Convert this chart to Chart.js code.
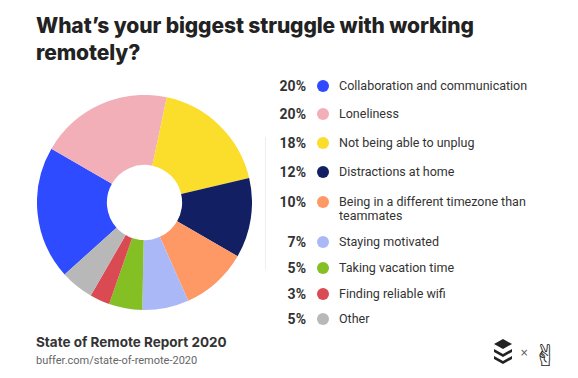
<!DOCTYPE html>
<html>
<head>
<meta charset="utf-8">
<script src="https://cdn.jsdelivr.net/npm/chart.js@4"></script>
<style>
  body { margin: 0; width: 578px; height: 378px; background: #fff; position: relative; overflow: hidden; font-family: Roboto, sans-serif; }
  h1 { position: absolute; left: 36px; top: 12px; margin: 0; font-family: Inter, sans-serif; font-weight: 800; font-size: 21px; line-height: 27px; color: #222; letter-spacing: -0.1px; }
  #pie { position: absolute; left: 37px; top: 95px; width: 215px; height: 215px; }
  #sep { position: absolute; left: 265px; top: 137px; width: 1px; height: 133px; background: #eee; }
  #legend { position: absolute; left: 270px; top: 0; margin: 0; padding: 0; list-style: none; }
  #legend li { position: absolute; left: 0; width: 300px; height: 16px; }
  #legend .pct { position: absolute; right: 264px; top: 0; font-weight: 700; font-size: 14px; line-height: 16px; color: #333; }
  #legend .dot { position: absolute; left: 47px; top: 2px; width: 12px; height: 12px; border-radius: 50%; }
  #legend .lab { position: absolute; left: 69px; top: 1px; width: 200px; font-size: 12.5px; line-height: 14px; color: #333; }
  #foot1 { position: absolute; left: 36px; top: 334px; font-family: Inter, sans-serif; font-weight: 700; font-size: 13.5px; color: #333; }
  #foot2 { position: absolute; left: 36px; top: 354px; font-size: 11px; color: #666; }
  #logo { position: absolute; left: 493px; top: 336px; }
</style>
</head>
<body>
<h1>What’s your biggest struggle with working<br>remotely?</h1>
<div id="pie"><canvas id="struggle"></canvas></div>
<div id="sep"></div>
<ul id="legend"></ul>
<div id="foot1">State of Remote Report 2020</div>
<div id="foot2">buffer.com/state-of-remote-2020</div>
<svg id="logo" width="70" height="34" viewBox="0 0 70 34">
  <polygon points="10,3 19,8 10,13 1,8" fill="#222"/>
  <polygon points="1,13 10,18 19,13 19,16 10,21 1,16" fill="#222"/>
  <polygon points="1,20 10,25 19,20 19,23 10,28 1,23" fill="#222"/>
  <text x="27" y="20" font-size="10" fill="#555" font-family="DejaVu Sans">×</text>
  <text x="40" y="30" font-size="30" fill="#222" font-family="DejaVu Sans">✌</text>
</svg>
<script>
// Antworten in Reihenfolge der Legende
const labels = ['Collaboration and communication', 'Loneliness', 'Not being able to unplug', 'Distractions at home',
  'Being in a different timezone than teammates', 'Staying motivated', 'Taking vacation time', 'Finding reliable wifi', 'Other'];
const values = [20, 20, 18, 12, 10, 7, 5, 3, 5];
const colors = ['#2f4bff', '#f2afb8', '#fbdd2b', '#131f63', '#fe9966', '#abb8f8', '#84c023', '#d94a52', '#b8b8b8'];

// Legende
const rowTops = [78, 106, 135, 164, 194, 234, 260, 286, 311];
const legend = document.getElementById('legend');
labels.forEach((l, i) => {
  const li = document.createElement('li');
  li.style.top = rowTops[i] + 'px';
  li.innerHTML = '<span class="pct">' + values[i] + '%</span><span class="dot" style="background:' + colors[i] + '"></span><span class="lab">' + l + '</span>';
  legend.appendChild(li);
});

new Chart(document.getElementById('struggle').getContext('2d'), {
  type: 'doughnut',
  data: {
    labels: labels,
    datasets: [{
      data: values,
      backgroundColor: colors,
      borderWidth: 0
    }]
  },
  options: {
    responsive: true,
    maintainAspectRatio: false,
    animation: false,
    cutout: '35%',
    rotation: 228,
    plugins: {
      legend: { display: false },
      tooltip: { enabled: false }
    }
  }
});
</script>
</body>
</html>
